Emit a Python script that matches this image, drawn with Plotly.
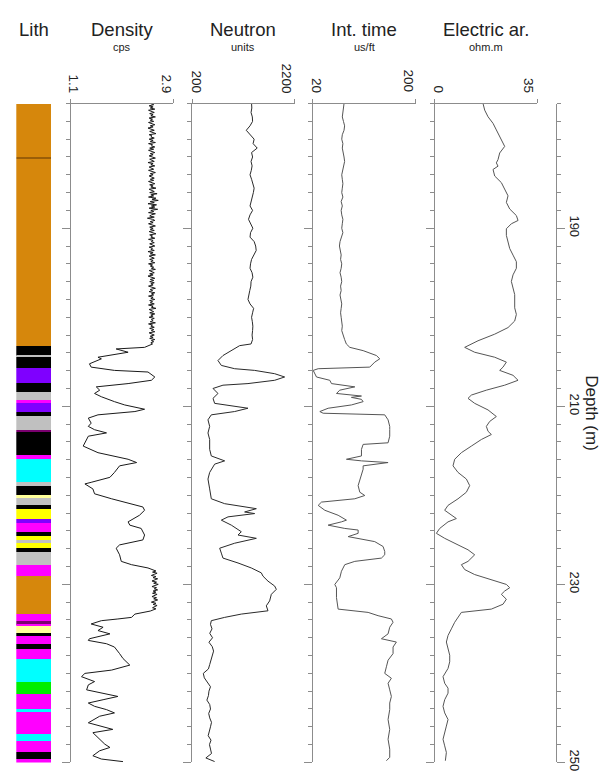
import numpy as np
import plotly.graph_objects as go

# ---------------- DATA ----------------
depth_range = [176, 250]

# Lithology column: (top, bottom, class)
lith_top = [176.0, 182.0, 182.2, 203.2, 204.3, 204.45, 205.6, 207.3, 208.4, 209.2, 209.55, 210.6, 211.0,
            212.6, 212.85, 215.4, 215.9, 218.5, 218.9, 219.9, 220.2, 221.05, 221.5, 222.6, 223.05, 224.1,
            224.5, 225.0, 225.3, 225.9, 226.3, 227.8, 229.0, 233.3, 234.1, 234.5, 234.6, 235.4, 235.8,
            236.6, 237.2, 238.3, 240.9, 242.3, 243.9, 244.3, 246.8, 247.6, 248.8, 249.6]
lith_bot = lith_top[1:] + [250.0]
lith_class = ["sand", "contact", "sand", "coal", "silt", "coal", "clay", "coal", "silt", "marl", "clay", "coal",
              "silt", "lignite", "coal", "marl", "lime", "silt", "coal", "sandst", "silt", "coal", "gravel",
              "clay", "marl", "coal", "gravel", "silt", "gravel", "coal", "silt", "marl", "sand", "marl",
              "lignite", "marl", "sandst", "coal", "marl", "coal", "marl", "lime", "dolo", "marl", "lime",
              "marl", "lime", "marl", "coal", "marl"]

# Density (cps): upper high-frequency section, read every 0.125 m from 176 to 203 m
den_top_depth = np.arange(176.0, 203.001, 0.125)
den_top_val = [
    2.51, 2.56, 2.48, 2.55, 2.50, 2.58, 2.47, 2.53, 2.57, 2.49, 2.55, 2.51, 2.59, 2.48, 2.54, 2.50,
    2.56, 2.47, 2.53, 2.58, 2.50, 2.55, 2.46, 2.52, 2.57, 2.49, 2.54, 2.60, 2.48, 2.53, 2.51, 2.57,
    2.48, 2.55, 2.50, 2.59, 2.47, 2.54, 2.52, 2.58, 2.49, 2.56, 2.47, 2.53, 2.58, 2.50, 2.55, 2.48,
    2.54, 2.59, 2.49, 2.52, 2.57, 2.46, 2.55, 2.51, 2.58, 2.48, 2.53, 2.56, 2.47, 2.54, 2.59, 2.50,
    2.55, 2.48, 2.53, 2.57, 2.50, 2.56, 2.47, 2.52, 2.58, 2.49, 2.55, 2.51, 2.60, 2.48, 2.54, 2.57,
    2.49, 2.62, 2.51, 2.56, 2.47, 2.60, 2.53, 2.64, 2.50, 2.57, 2.46, 2.61, 2.52, 2.58, 2.48, 2.63,
    2.51, 2.56, 2.47, 2.59, 2.52, 2.49, 2.57, 2.45, 2.54, 2.58, 2.50, 2.55, 2.47, 2.53, 2.59, 2.49,
    2.55, 2.50, 2.57, 2.48, 2.53, 2.60, 2.49, 2.54, 2.51, 2.58, 2.47, 2.55, 2.52, 2.57, 2.49, 2.53,
    2.58, 2.48, 2.54, 2.51, 2.57, 2.46, 2.55, 2.50, 2.59, 2.48, 2.53, 2.57, 2.49, 2.55, 2.51, 2.58,
    2.47, 2.54, 2.50, 2.56, 2.52, 2.59, 2.48, 2.53, 2.57, 2.49, 2.55, 2.46, 2.54, 2.58, 2.50, 2.56,
    2.49, 2.57, 2.51, 2.55, 2.47, 2.53, 2.59, 2.50, 2.54, 2.48, 2.58, 2.52, 2.56, 2.47, 2.55, 2.51,
    2.58, 2.49, 2.54, 2.50, 2.57, 2.47, 2.55, 2.52, 2.60, 2.48, 2.53, 2.56, 2.49, 2.58, 2.51, 2.55,
    2.48, 2.57, 2.52, 2.55, 2.50, 2.59, 2.47, 2.54, 2.51, 2.57, 2.49, 2.56, 2.52, 2.58, 2.48, 2.54,
    2.57, 2.50, 2.55, 2.49, 2.58, 2.52, 2.56, 2.51, 2.54]
den_mid_depth = [203.38, 203.56, 203.93, 204.49, 204.67, 205.23, 205.60, 205.97, 206.15, 206.71, 207.08,
                 207.45, 207.82, 208.19, 208.56, 208.93, 209.48, 209.85, 210.33, 210.59, 210.96, 211.33,
                 211.89, 212.26, 212.63, 212.99, 213.36, 214.47, 215.21, 215.58, 215.95, 216.32, 216.69,
                 217.43, 217.98, 218.54, 218.72, 219.28, 219.83, 220.39, 220.76, 221.13, 221.31, 221.68,
                 222.24, 222.98, 223.35, 223.72, 224.46, 225.01, 225.57, 225.94, 226.68, 227.42, 227.79,
                 228.16]
den_mid_val = [2.40, 1.90, 2.11, 1.58, 1.64, 1.43, 1.46, 1.87, 2.46, 2.58, 2.52,
               2.11, 1.55, 1.61, 1.52, 1.64, 1.87, 2.05, 2.40, 2.23, 1.58, 1.41,
               1.46, 1.41, 1.52, 1.73, 1.41, 1.32, 1.58, 1.87, 2.11, 2.26, 1.96,
               1.87, 1.79, 1.46, 1.35, 1.49, 1.52, 1.82, 2.05, 2.29, 2.37, 2.40,
               2.31, 2.11, 2.14, 2.34, 2.40, 2.37, 1.96, 1.90, 1.96, 1.99, 2.17,
               2.46]
# Density: lower high-frequency section, read every 0.125 m from 228.25 to 233 m
den_band_depth = np.arange(228.25, 233.001, 0.125)
den_band_val = [2.50, 2.56, 2.60, 2.54, 2.62, 2.57, 2.52, 2.60, 2.55, 2.63, 2.57, 2.53, 2.61,
                2.56, 2.64, 2.58, 2.53, 2.61, 2.57, 2.63, 2.55, 2.60, 2.54, 2.62, 2.58, 2.53,
                2.61, 2.56, 2.63, 2.57, 2.52, 2.60, 2.55, 2.62, 2.57, 2.54, 2.60, 2.53, 2.50]
den_low_depth = [233.34, 233.71, 233.89, 234.08, 234.45, 234.82, 235.19, 235.56, 236.11, 236.30, 236.67,
                 237.04, 237.78, 238.33, 239.07, 239.26, 239.63, 240.00, 240.37, 240.92, 241.29, 241.85,
                 242.59, 242.96, 243.33, 243.70, 244.07, 244.44, 244.81, 245.55, 245.92, 246.29, 246.66,
                 247.03, 247.40, 247.95, 248.32, 248.69, 249.25, 249.62, 249.91]
den_low_val = [2.23, 2.17, 1.93, 1.64, 1.46, 1.67, 1.58, 1.79, 1.43, 1.41, 1.73,
               1.87, 1.96, 2.02, 2.14, 2.02, 1.82, 1.35, 1.29, 1.52, 1.41, 1.38,
               1.93, 1.67, 1.41, 1.52, 1.73, 1.87, 1.61, 1.41, 1.64, 1.84, 1.49,
               1.55, 1.61, 1.70, 1.79, 1.61, 1.49, 1.64, 2.02]

# Neutron (units)
neu_top_depth = np.arange(176.0, 203.001, 0.5)
neu_top_val = [1360, 1365, 1350, 1375, 1380, 1330, 1257, 1340, 1410, 1390,
               1470, 1360, 1380, 1350, 1370, 1355, 1330, 1360, 1380, 1410,
               1395, 1370, 1340, 1330, 1380, 1330, 1300, 1350, 1385, 1340,
               1330, 1410, 1440, 1450, 1410, 1360, 1340, 1330, 1370, 1385,
               1350, 1345, 1325, 1310, 1290, 1330, 1400, 1380, 1360, 1375,
               1385, 1380, 1370, 1380, 1350]
neu_depth = [203.19, 203.75, 204.30, 204.86, 205.41, 205.78, 205.97, 206.34, 206.71, 207.08, 207.45,
             207.63, 208.00, 208.56, 209.11, 209.67, 210.22, 210.59, 210.96, 211.52, 212.26, 213.00,
             213.73, 214.84, 215.58, 216.13, 216.50, 217.43, 218.17, 219.28, 220.39, 220.94, 221.31,
             221.50, 221.87, 222.05, 222.42, 222.79, 223.35, 224.09, 224.46, 224.83, 225.38, 225.94,
             226.49, 227.05, 227.60, 228.16, 228.71, 229.08, 229.64, 230.19, 230.56, 231.12, 231.86,
             232.41, 232.97, 233.34, 233.71, 234.08, 234.5, 235.0, 235.5, 236.0, 236.5, 237.0, 237.5,
             238.0, 238.5, 239.0, 239.5, 240.0, 240.5, 241.0, 241.5, 242.0, 242.5, 243.0, 243.5, 244.0,
             244.5, 245.0, 245.5, 246.0, 246.5, 247.0, 247.5, 248.0, 248.5, 249.0, 249.5, 249.9]
neu_val = [1128, 966, 803, 706, 771, 1031, 1420, 1810, 2004, 1810, 1290,
           803, 609, 706, 609, 641, 1290, 1031, 576, 511, 544, 511,
           544, 544, 576, 836, 641, 544, 511, 544, 576, 836, 1290,
           1453, 1225, 1420, 901, 771, 966, 1160, 1096, 1453, 1031, 739,
           771, 803, 1096, 1355, 1550, 1582, 1680, 1810, 1842, 1745, 1712,
           1647, 1680, 1160, 836, 576, 560, 590, 545, 600, 530, 595, 620,
           600, 575, 545, 520, 420, 440, 500, 560, 530, 520, 490, 545, 560,
           525, 545, 580, 560, 530, 515, 570, 540, 560, 580, 470, 640]

# Interval transit time (us/ft)
int_top_depth = np.arange(176.0, 203.001, 0.5)
int_top_val = [75, 74, 73, 72, 74, 76, 75, 72, 71, 73,
               72, 74, 75, 76, 74, 73, 71, 72, 73, 72,
               71, 73, 70, 72, 70, 71, 73, 72, 71, 73,
               70, 68, 67, 69, 70, 69, 71, 70, 68, 70,
               71, 69, 70, 68, 70, 71, 70, 69, 70, 71,
               72, 71, 73, 76, 79]
int_depth = [203.38, 203.75, 204.30, 204.67, 205.04, 205.60, 205.78, 205.97, 206.34, 206.71, 207.08,
             207.45, 207.82, 208.00, 208.19, 208.56, 208.85, 209.00, 209.22, 209.48, 209.85, 210.22,
             210.59, 210.78, 210.96, 211.52, 212.26, 212.62, 213.36, 214.10, 214.28, 214.84, 215.58,
             215.95, 216.13, 216.32, 216.69, 217.06, 218.17, 218.91, 219.65, 220.02, 220.39, 220.76,
             221.13, 221.68, 222.24, 222.79, 222.98, 223.35, 223.72, 223.90, 224.27, 224.64, 225.20,
             225.75, 226.31, 226.68, 227.05, 227.42, 227.79, 228.53, 229.27, 230.01, 230.38, 231.49,
             232.78, 233.15, 233.52, 233.89, 234.26, 234.82, 235.56, 236.11, 236.48, 237.04, 237.78,
             238.52, 239.26, 240.00, 240.55, 241.11, 241.85, 242.59, 243.33, 244.07, 245.18, 246.29,
             247.40, 248.51, 249.43, 249.81]
int_val = [85.1, 108.3, 131.5, 137.3, 128.6, 119.9, 29.9, 21.2, 24.1, 27.0, 50.2,
           53.1, 93.8, 82.2, 67.6, 61.8, 105.4, 87.9, 105.4, 108.3, 87.9, 47.3,
           32.8, 38.6, 146.0, 151.8, 154.7, 154.7, 154.7, 151.8, 108.3, 105.4, 105.4,
           79.2, 105.4, 151.8, 108.3, 108.3, 102.5, 99.6, 102.5, 111.2, 93.8, 35.7,
           29.9, 41.5, 64.7, 79.2, 70.5, 47.3, 76.3, 99.6, 99.6, 82.2, 128.6,
           143.1, 146.0, 146.0, 140.2, 93.8, 76.3, 70.5, 67.6, 58.9, 61.8, 61.8,
           64.7, 117.0, 134.4, 157.6, 160.5, 154.7, 151.8, 140.2, 166.3, 160.5, 160.5,
           151.8, 148.9, 146.0, 157.6, 151.8, 154.7, 157.6, 154.7, 154.7, 151.8, 154.7,
           151.8, 154.7, 154.7, 148.9]

# Electric (apparent resistivity, ohm.m)
ele_depth = [176.00, 176.74, 177.48, 178.22, 178.96, 179.70, 180.44, 180.81, 181.55, 182.29, 182.66,
             183.03, 183.40, 184.14, 184.88, 185.62, 186.36, 187.10, 187.84, 188.58, 189.13, 189.50,
             190.06, 190.80, 191.54, 192.28, 193.02, 193.76, 194.50, 195.24, 195.98, 196.72, 197.46,
             198.94, 199.68, 200.42, 201.16, 201.90, 202.64, 203.38, 203.93, 204.49, 205.04, 205.60,
             205.97, 206.52, 207.08, 207.63, 208.19, 208.74, 209.11, 209.67, 210.41, 211.15, 211.70,
             212.26, 212.81, 213.17, 213.73, 214.47, 215.21, 215.95, 216.69, 217.43, 218.17, 218.91,
             219.65, 220.39, 221.13, 221.68, 222.24, 222.61, 222.98, 223.72, 224.27, 224.83, 225.57,
             226.12, 226.68, 227.42, 227.79, 228.34, 228.90, 229.45, 230.01, 230.38, 230.75, 231.12,
             231.67, 232.23, 232.78, 233.15, 233.71, 234.26, 235.00, 235.74, 236.48, 237.22, 237.96,
             238.70, 239.44, 240.37, 241.11, 241.66, 242.22, 242.96, 243.70, 244.44, 245.18, 245.92,
             246.66, 247.40, 248.14, 248.88, 249.81]
ele_val = [16.49, 17.06, 18.19, 19.90, 21.03, 22.17, 23.31, 23.88, 22.17, 21.60, 21.03,
           21.60, 19.90, 20.47, 22.74, 23.88, 25.01, 24.45, 25.58, 27.86, 28.43, 26.15,
           24.45, 24.45, 25.01, 25.58, 26.72, 27.86, 27.86, 26.72, 26.15, 26.72, 27.29,
           27.29, 27.86, 27.29, 25.01, 20.47, 14.78, 10.23, 13.64, 20.47, 24.45, 23.31,
           22.17, 26.72, 28.43, 23.88, 17.62, 12.51, 11.37, 13.64, 18.19, 21.03, 18.76,
           17.62, 18.19, 19.33, 15.92, 12.51, 9.10, 6.82, 6.25, 7.96, 10.80, 11.94,
           10.80, 7.96, 4.55, 3.41, 5.69, 7.39, 4.55, 1.71, 0.57, 3.41, 7.96,
           11.37, 13.64, 11.37, 9.10, 10.23, 13.64, 19.33, 24.45, 25.58, 23.88, 22.74,
           24.45, 23.31, 19.33, 9.10, 7.96, 6.82, 5.69, 4.55, 3.98, 4.55, 5.12,
           5.12, 4.55, 2.84, 3.41, 4.55, 4.55, 3.41, 2.84, 3.41, 4.55, 3.98,
           3.41, 2.84, 3.41, 3.98, 3.64]

# ---------------- STYLE ----------------
W, H = 615, 773
FONT = "Liberation Sans, Arial, Helvetica, sans-serif"
AXC = "#8c8c8c"
TXT = "#222222"
lith_colors = {"sand": "#D6870C", "contact": "#9A5E08", "coal": "#000000", "silt": "#C0C0C0",
               "clay": "#7F00FF", "marl": "#FF00FF", "lignite": "#7A006E", "lime": "#00FFFF",
               "sandst": "#FFFF99", "gravel": "#FFFF00", "dolo": "#00EE00"}


def px(x):
    return x / W


def py(y):
    return 1 - y / H


Y_TOP, Y_BOT = 96.7, 763.3
ydom = [py(Y_BOT), py(Y_TOP)]
yrange = [depth_range[1], depth_range[0]]

fig = go.Figure()

# Lith column
fig.add_trace(go.Bar(
    x=[0] * len(lith_top),
    y=[b - t for t, b in zip(lith_top, lith_bot)],
    base=lith_top,
    width=1.0,
    marker=dict(color=[lith_colors[c] for c in lith_class], line=dict(width=0)),
    xaxis="x", yaxis="y", showlegend=False, hoverinfo="skip"))

# (title, unit, lo, hi, tick texts, depths, values, left px, right px, colour, label x centres)
tracks = [
    ("Density", "cps", 1.1, 2.9, ["1.1", "2.9"],
     list(den_top_depth) + den_mid_depth + list(den_band_depth) + den_low_depth,
     den_top_val + den_mid_val + den_band_val + den_low_val,
     62.7, 165.0, "#1a1a1a", (66.0, 159.0)),
    ("Neutron", "units", 200, 2200, ["200", "2200"],
     list(neu_top_depth) + neu_depth, neu_top_val + neu_val,
     184.0, 286.7, "#2a2a2a", (189.0, 278.5)),
    ("Int. time", "us/ft", 20, 200, ["20", "200"],
     list(int_top_depth) + int_depth, int_top_val + int_val,
     304.5, 407.7, "#555555", (308.5, 401.0)),
    ("Electric ar.", "ohm.m", 0, 35, ["0", "35"],
     ele_depth, ele_val, 426.7, 529.3, "#555555", (430.5, 520.5)),
]

layout = dict(
    width=W, height=H, margin=dict(l=0, r=0, t=0, b=0),
    paper_bgcolor="white", plot_bgcolor="white",
    showlegend=False, barmode="overlay", bargap=0,
    font=dict(family=FONT, color=TXT),
    xaxis=dict(domain=[px(8.3), px(43.3)], range=[-0.5, 0.5], visible=False, anchor="y"),
    yaxis=dict(domain=ydom, range=yrange, visible=False, anchor="x"),
)

annotations = [dict(text="Lith", x=px(26.3), y=py(22), xref="paper", yref="paper",
                    showarrow=False, font=dict(size=18.5, family=FONT, color=TXT),
                    xanchor="center", yanchor="middle")]

for i, (title, unit, lo, hi, tt, dd, vv, xl, xr, lc, labx) in enumerate(tracks, start=2):
    fig.add_trace(go.Scatter(x=vv, y=dd, mode="lines", line=dict(color=lc, width=1),
                             xaxis=f"x{i}", yaxis=f"y{i}", showlegend=False, hoverinfo="skip"))
    layout[f"xaxis{i}"] = dict(
        domain=[px(xl), px(xr)], range=[lo, hi], side="top", anchor=f"y{i}",
        tickmode="array", tickvals=[lo, hi], ticks="outside", ticklen=4,
        tickcolor=AXC, showticklabels=False,
        showline=True, linecolor=AXC, linewidth=1, showgrid=False, zeroline=False)
    layout[f"yaxis{i}"] = dict(
        domain=ydom, range=yrange, anchor=f"x{i}", side="left",
        showline=True, linecolor=AXC, linewidth=1, showgrid=False, zeroline=False,
        tickmode="linear", tick0=190, dtick=20, ticks="outside", ticklen=8, tickcolor=AXC,
        showticklabels=False,
        minor=dict(tick0=176, dtick=2, ticks="outside", ticklen=4, tickcolor=AXC))
    xc = (xl + xr) / 2
    annotations.append(dict(text=title, x=px(xc), y=py(22), xref="paper", yref="paper",
                            showarrow=False, font=dict(size=18.5, family=FONT, color=TXT),
                            xanchor="center", yanchor="middle"))
    annotations.append(dict(text=unit, x=px(xc), y=py(39.5), xref="paper", yref="paper",
                            showarrow=False, font=dict(size=11, family=FONT, color=TXT),
                            xanchor="center", yanchor="middle"))
    # scale-end labels, rotated, sitting just above the scale line
    for t, xlab in zip(tt, labx):
        annotations.append(dict(text=t, x=px(xlab), y=py(87), xref="paper", yref="paper",
                                showarrow=False, textangle=90,
                                font=dict(size=13.5, family=FONT, color=TXT),
                                xanchor="center", yanchor="bottom", borderpad=0))

# Depth axis on the right
fig.add_trace(go.Scatter(x=[None], y=[None], xaxis="x6", yaxis="y6", showlegend=False,
                         hoverinfo="skip"))
layout["xaxis6"] = dict(domain=[px(538), px(548.3)], range=[0, 1], visible=False, anchor="y6")
layout["yaxis6"] = dict(
    domain=ydom, range=yrange, anchor="x6", side="right",
    showline=True, linecolor=AXC, linewidth=1, showgrid=False, zeroline=False,
    tickmode="linear", tick0=190, dtick=20, ticks="outside", ticklen=8, tickcolor=AXC,
    tickangle=90, tickfont=dict(size=13, family=FONT, color=TXT),
    minor=dict(tick0=176, dtick=2, ticks="outside", ticklen=4, tickcolor=AXC))
annotations.append(dict(text="Depth (m)", x=px(584), y=py(410), xref="paper", yref="paper",
                        showarrow=False, textangle=90, font=dict(size=17, family=FONT, color=TXT),
                        xanchor="center", yanchor="middle"))

layout["annotations"] = annotations
fig.update_layout(**layout)
fig.write_html("out.html")
